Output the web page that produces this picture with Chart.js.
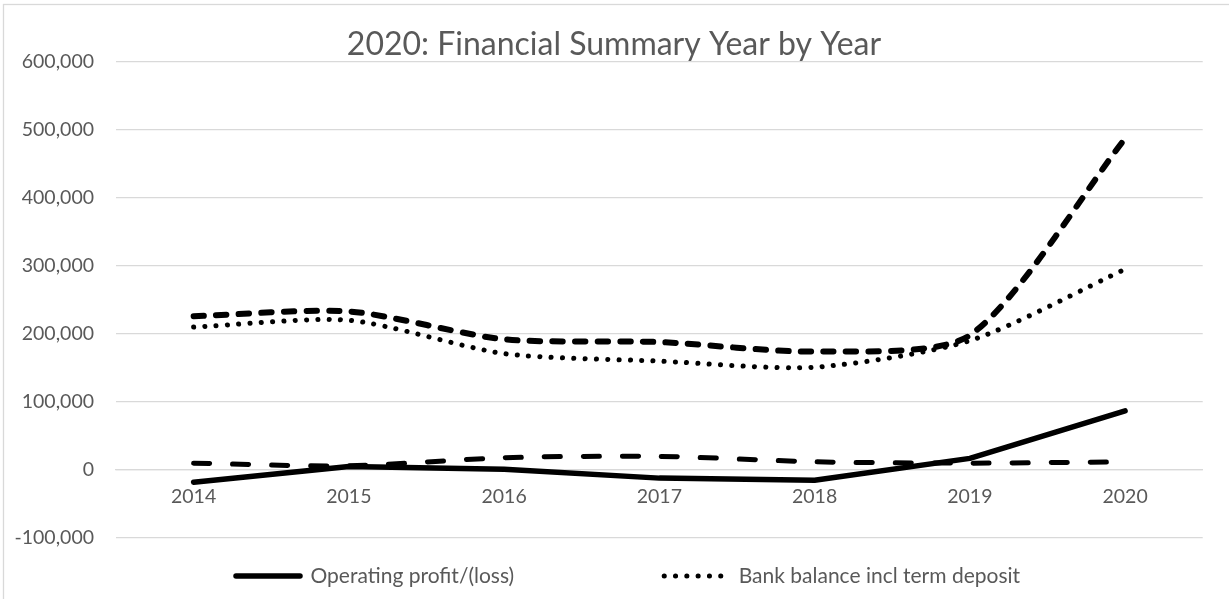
<!DOCTYPE html>
<html><head><meta charset="utf-8">
<script src="https://cdn.jsdelivr.net/npm/chart.js@4/dist/chart.umd.min.js"></script>
<style>html,body{margin:0;padding:0;background:#fff}#wrap{position:relative;width:1229px;height:599px}</style>
</head><body><div id="wrap"><canvas id="c"></canvas></div>
<script>
const years = ['2014', '2015', '2016', '2017', '2018', '2019', '2020'];
const operatingProfit = [-18000, 5000, 1000, -12000, -15000, 17000, 87000];
const bankBalance = [210000, 220000, 171000, 160000, 151000, 190000, 295000];
const series3 = [226000, 233000, 192000, 188000, 174000, 198000, 487000];
const series4 = [10000, 6000, 18000, 20000, 12000, 10000, 12000];
const yTicks = [-100000, 0, 100000, 200000, 300000, 400000, 500000, 600000];
const titleText = '2020: Financial Summary Year by Year';
const legendNames = ['Operating profit/(loss)', 'Bank balance incl term deposit'];
const seriesNames = [legendNames[0], legendNames[1], 'Series 3', 'Series 4'];

const TEXT = '#595959';
const GRID = '#d9d9d9';
const LEG_PAD = 150;

const frame = {
  id: 'frame',
  beforeDraw(chart) {
    const ctx = chart.ctx;
    ctx.save();
    ctx.strokeStyle = GRID;
    ctx.lineWidth = 1.3;
    ctx.strokeRect(3.5, 4.5, 1300, 700);
    ctx.restore();
  }
};
const placeBoxes = {
  id: 'placeBoxes',
  afterLayout(chart) {
    const lg = chart.legend;
    if (lg && lg.lineWidths) {
      lg.top = 565.5 - LEG_PAD;
      const start = (lg.left + LEG_PAD + lg.right - lg.lineWidths[0]) / 2;
      const dx = 236 - start;
      lg.left += dx; lg.right += dx;
    }
    const tb = chart.titleBlock;
    if (tb) {
      const c = (tb.left + tb.right) / 2;
      const dx = 614 - c;
      tb.left += dx; tb.right += dx;
    }
  }
};

function build() {
  Chart.defaults.font.family = 'Lato';
  Chart.defaults.color = TEXT;
  new Chart(document.getElementById('c'), {
    type: 'line',
    data: {
      labels: years,
      datasets: [
        { label: seriesNames[0], data: operatingProfit, borderColor: '#000', backgroundColor: '#000',
          borderWidth: 5.5, tension: 0, borderCapStyle: 'round', borderJoinStyle: 'round', pointRadius: 0 },
        { label: seriesNames[1], data: bankBalance, borderColor: '#000', backgroundColor: '#000',
          borderWidth: 5, borderDash: [0.1, 11.2], borderCapStyle: 'round', tension: 0.25, pointRadius: 0 },
        { label: seriesNames[2], data: series3, borderColor: '#000', backgroundColor: '#000',
          borderWidth: 6, borderDash: [10.3, 12.3], borderCapStyle: 'round', tension: 0.25, pointRadius: 0 },
        { label: seriesNames[3], data: series4, borderColor: '#000', backgroundColor: '#000',
          borderWidth: 5, borderDash: [16, 23], borderCapStyle: 'round', tension: 0.25, pointRadius: 0 }
      ]
    },
    options: {
      responsive: true,
      maintainAspectRatio: false,
      animation: false,
      layout: { padding: { left: 0, right: 26.3, top: 0, bottom: 0 } },
      plugins: {
        title: { display: true, text: titleText, color: TEXT,
          font: { size: 32, weight: 'normal', lineHeight: 1 }, padding: { top: 29, bottom: 0.7 } },
        legend: {
          position: 'bottom', maxHeight: 61,
          labels: {
            usePointStyle: true, pointStyle: 'line', pointStyleWidth: 64, boxHeight: 21,
            padding: LEG_PAD, color: TEXT, font: { size: 21 },
            generateLabels(chart) {
              const items = Chart.defaults.plugins.legend.labels.generateLabels(chart);
              items.forEach((it) => {
                const ds = chart.data.datasets[it.datasetIndex];
                it.lineWidth = ds.borderWidth;
                it.lineDash = ds.borderDash || [];
                it.lineCap = ds.borderCapStyle || 'butt';
                it.strokeStyle = ds.borderColor;
                it.fillStyle = ds.borderColor;
                it.fontColor = TEXT;
              });
              return items;
            },
            filter: (item) => legendNames.includes(item.text)
          }
        },
        tooltip: { enabled: false }
      },
      scales: {
        x: {
          type: 'category', offset: true, position: { y: 0 },
          grid: { display: false, drawTicks: false },
          border: { display: true, color: GRID, width: 1.25 },
          ticks: { padding: 15, font: { size: 19.5 }, color: TEXT, maxRotation: 0 }
        },
        y: {
          min: yTicks[0], max: yTicks[yTicks.length - 1],
          afterFit(s) { s.width = 116; },
          grid: { color: GRID, lineWidth: 1.25, drawTicks: false },
          border: { display: false },
          ticks: { stepSize: yTicks[1] - yTicks[0], padding: 22, font: { size: 19.5 }, color: TEXT,
            callback: (v) => Number(v).toLocaleString('en-US') }
        }
      }
    },
    plugins: [frame, placeBoxes]
  });
}
if (document.fonts && document.fonts.load) {
  Promise.all([document.fonts.load('21px Lato'), document.fonts.load('32px Lato')]).then(build, build);
} else build();
</script></body></html>
